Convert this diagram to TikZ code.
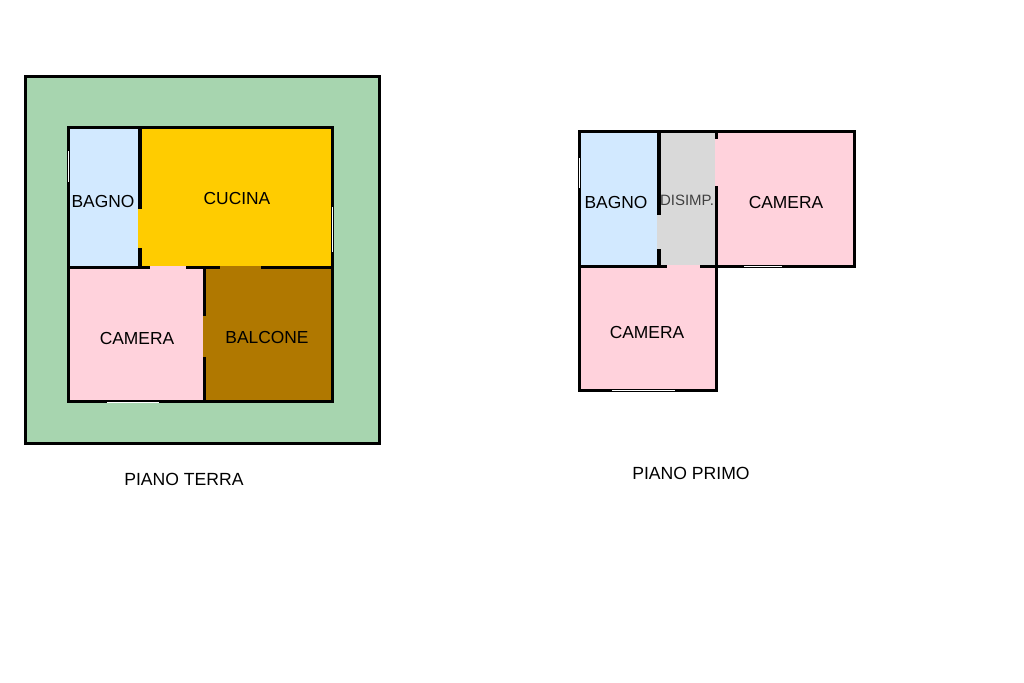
\documentclass[tikz,border=0pt]{standalone}
\usepackage{fontspec}
\setmainfont{Liberation Sans}
\definecolor{giardino}{HTML}{A7D5AF}
\definecolor{azzurro}{HTML}{D2E9FF}
\definecolor{giallo}{HTML}{FFCC00}
\definecolor{rosa}{HTML}{FFD2DC}
\definecolor{marrone}{HTML}{B07800}
\definecolor{grigio}{HTML}{D9D9D9}
\begin{document}
\begin{tikzpicture}[x=1pt,y=-1pt,
  wall/.style={draw=black, line width=3pt},
  thick wall/.style={draw=black, line width=3.6pt},
  finestra/.style={draw=white, line width=1pt},
  stanza/.style={font=\fontsize{17.4}{20}\selectfont, inner sep=0pt},
  titolo/.style={font=\fontsize{17.6}{20}\selectfont, inner sep=0pt}]
  \useasboundingbox (0,0) rectangle (1024,682);
  \fill[white] (0,0) rectangle (1024,682);
  % piano terra
  \draw[wall, fill=giardino] (25.5,76.3) rectangle (379.5,443);
  \fill[azzurro] (68.7,127.7) rectangle (140,267.5);
  \fill[giallo] (140,127.7) rectangle (332.3,267.5);
  \fill[rosa] (68.7,267.5) rectangle (204.7,401.7);
  \fill[marrone] (204.7,267.5) rectangle (332.3,401.7);
  \draw[wall] (68.7,127.7) rectangle (332.3,401.7);
  \draw[thick wall] (140,127.7) -- (140,209);
  \draw[thick wall] (140,247.7) -- (140,267.5);
  \draw[wall] (68.7,267.5) -- (150,267.5) (186,267.5) -- (220,267.5) (261,267.5) -- (332.3,267.5);
  \draw[wall] (204.7,267.5) -- (204.7,315.7) (204.7,357.3) -- (204.7,403.2);
  % porte
  \fill[giallo] (138.4,209) rectangle (141.8,247.7);
  \fill[rosa] (150,266) rectangle (186,269);
  \fill[marrone] (220,266) rectangle (261,269);
  \fill[marrone] (203.2,315.7) rectangle (206.2,357.3);
  \draw[finestra] (68.2,151) -- (68.2,182);
  \draw[finestra] (332.3,207) -- (332.3,252);
  \draw[finestra] (107,402) -- (159,402);
  \node[stanza] (bagnoT) at (103,202) {BAGNO};
  \node[stanza] (cucina) at (237,199) {CUCINA};
  \node[stanza] (cameraT) at (137,339) {CAMERA};
  \node[stanza] (balcone) at (267,338) {BALCONE};
  \node[titolo] (terra) at (184,479) {PIANO TERRA};
  % piano primo
  \fill[azzurro] (579.5,131.5) rectangle (659,266);
  \fill[grigio] (659,131.5) rectangle (716.2,266);
  \fill[rosa] (716.2,131.5) rectangle (854.5,266);
  \fill[rosa] (579.5,266) rectangle (716.2,390.3);
  \draw[wall] (716.2,131.5) -- (854.5,131.5) -- (854.5,266) -- (716.2,266) -- (716.2,390.3) -- (579.5,390.3) -- (579.5,131.5) -- cycle;
  \draw[thick wall] (659,131.5) -- (659,215);
  \draw[thick wall] (659,249) -- (659,266);
  \draw[wall] (579.5,266) -- (667,266) (700,266) -- (716.2,266);
  \draw[wall] (716.2,131.5) -- (716.2,138.7) (716.2,186) -- (716.2,266);
  % porte
  \fill[grigio] (657.2,215) rectangle (660.8,249);
  \fill[rosa] (667,264.5) rectangle (700,267.5);
  \fill[rosa] (714.7,138.7) rectangle (717.7,186);
  \draw[finestra] (579.5,158) -- (579.5,188);
  \draw[finestra] (744,266.3) -- (782,266.3);
  \draw[finestra] (612,390.3) -- (675,390.3);
  \node[stanza] (bagnoP) at (616,203) {BAGNO};
  \node[stanza, font=\fontsize{15}{18}\selectfont\color{black!75}] (disimp) at (687,200) {DISIMP.};
  \node[stanza] (cameraD) at (786,203) {CAMERA};
  \node[stanza] (cameraS) at (647,333) {CAMERA};
  \node[titolo] (primo) at (691,473) {PIANO PRIMO};
\end{tikzpicture}
\end{document}
